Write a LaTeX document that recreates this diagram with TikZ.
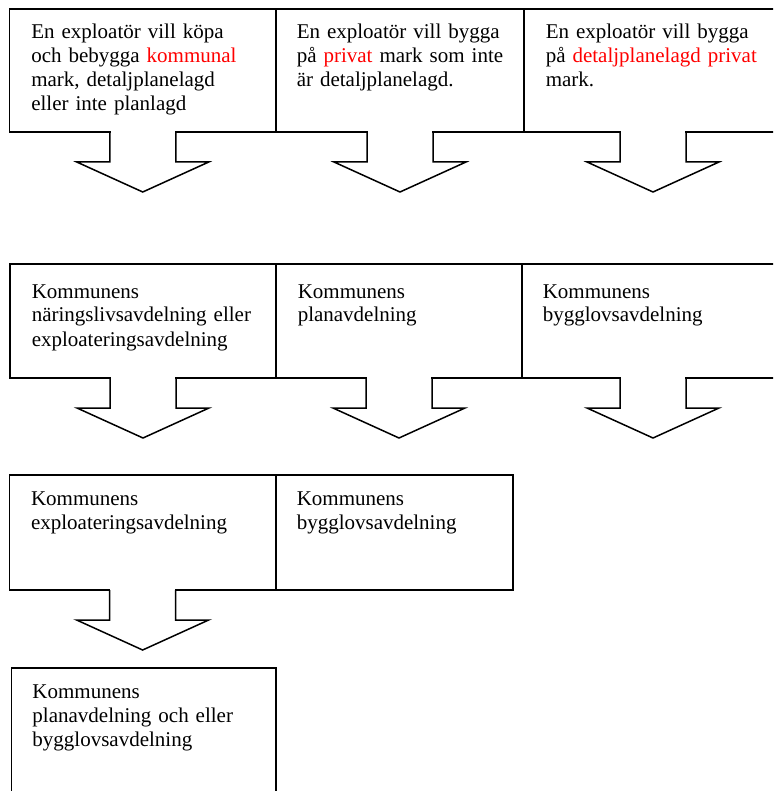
\documentclass[tikz,border=0pt]{standalone}
\usepackage{fontspec}
\setmainfont{Liberation Serif}
\usetikzlibrary{positioning,calc}

% nedåtpil under en ruta (öppen mot rutan)
\newcommand{\nedpil}[1]{%
  \fill[white] ($(#1.south)+(-32.2,-1)$) rectangle ($(#1.south)+(32.2,1)$);
  \draw ($(#1.south)+(-33,0)$) -- ++(0,30) -- ++(-33,0) -- ++(66,30)
        -- ++(66,-30) -- ++(-33,0) -- ++(0,-30);
}

\begin{document}
\begin{tikzpicture}[x=1pt,y=-1pt,line width=1.5pt,line join=miter,
  ruta/.style={draw,rectangle,outer sep=0pt,inner sep=0pt,minimum height=#1},
  txt/.style={anchor=base west,inner sep=0pt,align=left,text width=250pt,
    font=\fontsize{21}{24}\selectfont}]

\useasboundingbox (0,0) rectangle (773,791);
\clip (0,0) rectangle (773,791);

% rutorna
  \node[ruta=123, minimum width=266.5, anchor=north west] (a1) at (9.5,9) {};
  \node[ruta=123, minimum width=248, right=0pt of a1] (a2) {};
  \node[ruta=123, minimum width=258, right=0pt of a2] (a3) {};

  \node[ruta=114, minimum width=266, anchor=north west] (b1) at (10,264) {};
  \node[ruta=114, minimum width=246, right=0pt of b1] (b2) {};
  \node[ruta=114, minimum width=262, right=0pt of b2] (b3) {};

  \node[ruta=115, minimum width=266.7, anchor=north west] (c1) at (9.3,475) {};
  \node[ruta=115, minimum width=237, right=0pt of c1] (c2) {};

  \node[ruta=140, minimum width=264.3, anchor=north west] (d1) at (11.7,668) {};

% pilarna
  \nedpil{a1} \nedpil{a2} \nedpil{a3}
  \nedpil{b1} \nedpil{b2} \nedpil{b3}
  \nedpil{c1}

% texterna
  \node[txt] (ta1) at ($(a1.north west)+(21,30)$)
    {En exploatör vill köpa\\ och bebygga \textcolor{red}{kommunal}\\ mark, detaljplanelagd\\ eller inte planlagd};
  \node[txt] (ta2) at ($(a2.north west)+(20,30)$)
    {En exploatör vill bygga\\ på \textcolor{red}{privat} mark som inte\\ är detaljplanelagd.};
  \node[txt] (ta3) at ($(a3.north west)+(21,30)$)
    {En exploatör vill bygga\\ på \textcolor{red}{detaljplanelagd privat}\\ mark.};

  \node[txt] (tb1) at ($(b1.north west)+(21,34)$)
    {Kommunens\\ näringslivsavdelning eller\\ exploateringsavdelning};
  \node[txt] (tb2) at ($(b2.north west)+(21,34)$)
    {Kommunens\\ planavdelning};
  \node[txt] (tb3) at ($(b3.north west)+(20,34)$)
    {Kommunens\\ bygglovsavdelning};

  \node[txt] (tc1) at ($(c1.north west)+(21,30)$)
    {Kommunens\\ exploateringsavdelning};
  \node[txt] (tc2) at ($(c2.north west)+(20,30)$)
    {Kommunens\\ bygglovsavdelning};

  \node[txt] (td1) at ($(d1.north west)+(20,30)$)
    {Kommunens\\ planavdelning och eller\\ bygglovsavdelning};

\end{tikzpicture}
\end{document}
